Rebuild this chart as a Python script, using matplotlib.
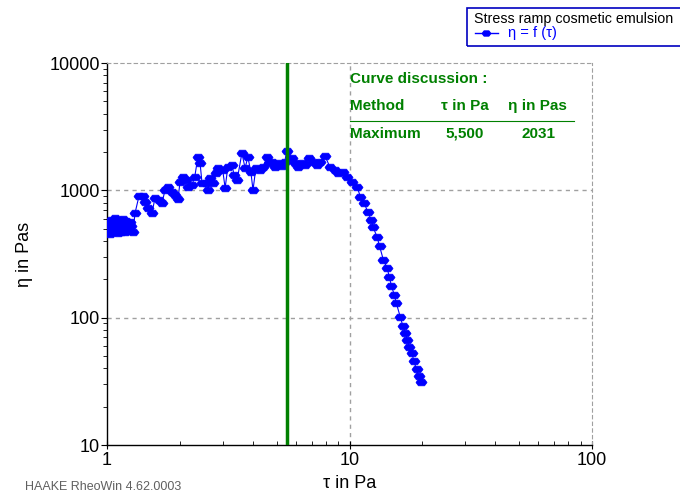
import matplotlib
matplotlib.use("Agg")
import matplotlib.pyplot as plt
from matplotlib.ticker import LogLocator, NullFormatter, FixedLocator, FixedFormatter

plt.rcParams['font.family'] = ['Liberation Sans', 'DejaVu Sans']

# ---- data (shear stress tau in Pa, viscosity eta in Pas) ----
tau = [1.00, 1.01, 1.02, 1.03, 1.04, 1.05, 1.06, 1.07, 1.08, 1.09, 1.10, 1.11,
       1.12, 1.13, 1.14, 1.15, 1.16, 1.17, 1.18, 1.19, 1.20, 1.21, 1.22, 1.24,
       1.26, 1.28, 1.305, 1.355, 1.408, 1.434, 1.476, 1.533, 1.577, 1.639,
       1.686, 1.735, 1.785, 1.854, 1.908, 1.963, 2.00, 2.06, 2.115, 2.157,
       2.24, 2.30, 2.37, 2.42, 2.465, 2.56, 2.61, 2.66, 2.74, 2.82, 2.87,
       3.00, 3.07, 3.15, 3.28, 3.34, 3.44, 3.60, 3.71, 3.81, 3.92, 4.00,
       4.11, 4.28, 4.40, 4.57, 4.66, 4.79, 4.93, 5.07, 5.27, 5.41, 5.50,
       5.79, 5.95, 6.13, 6.37, 6.56, 6.81, 7.08, 7.35, 7.55, 7.92, 8.31,
       8.71, 8.97, 9.41, 9.77, 10.25, 10.75, 11.1, 11.5, 11.9, 12.3, 12.5,
       13.0, 13.3, 13.8, 14.3, 14.6, 14.9, 15.3, 15.6, 16.2, 16.6, 17.0,
       17.3, 17.6, 18.1, 18.4, 18.9, 19.3, 19.7]
eta = [560, 480, 530, 450, 590, 500, 470, 560, 610, 490, 530, 460,
       580, 510, 470, 550, 600, 490, 520, 470, 570, 510, 480, 560,
       520, 470, 663, 902, 902, 809, 726, 663, 870, 839,
       795, 1005, 1061, 970, 918, 855, 1161, 1272, 1204, 1061,
       1101, 1272, 1826, 1639, 1141, 1141, 1005, 1249, 1141, 1368, 1497,
       1443, 1043, 1524, 1580, 1318, 1204, 1963, 1497, 1826, 1393, 1005,
       1497, 1443, 1524, 1826, 1639, 1668, 1524, 1639, 1552, 1668, 2031,
       1794, 1639, 1524, 1639, 1580, 1794, 1668, 1580, 1668, 1859, 1524,
       1443, 1368, 1393, 1272, 1161, 1061, 886, 795, 675, 584, 515,
       430, 365, 283, 245, 208, 177, 151, 130, 101, 86, 76,
       67, 59, 53, 45.6, 39.5, 34.8, 31]

max_tau = 5.5
max_eta = 2031

x_ticks = [1, 10, 100]
x_tick_labels = ["1", "10", "100"]
y_ticks = [10, 100, 1000, 10000]
y_tick_labels = ["10", "100", "1000", "10000"]

# flattened hexagon marker (wider than tall)
hexflat = [(-1, 0), (-0.55, 0.6), (0.55, 0.6), (1, 0), (0.55, -0.6), (-0.55, -0.6), (-1, 0)]

fig = plt.figure(figsize=(6.8, 4.93), dpi=100)
ax = fig.add_axes([107/680, 1-445/493, (592-107)/680, (445-63)/493])

ax.set_xscale('log')
ax.set_yscale('log')
ax.set_xlim(1, 100)
ax.set_ylim(10, 10000)

line, = ax.plot(tau, eta, color='#0000ff', lw=0.8, marker=hexflat, ms=8,
                mec='#0000ff', mfc='#0000ff', mew=0.5, zorder=3)
ax.axvline(max_tau, color='#008000', lw=2.5, zorder=4)

# grid
for v in [10]:
    ax.axvline(v, color='#a0a0a0', lw=1, ls=(0, (3, 3)), zorder=1)
for v in [100, 1000]:
    ax.axhline(v, color='#a0a0a0', lw=1, ls=(0, (3, 3)), zorder=1)

for s in ['top', 'right']:
    ax.spines[s].set_color('#a0a0a0')
    ax.spines[s].set_linestyle((0, (3, 3)))
for s in ['left', 'bottom']:
    ax.spines[s].set_color('black')
    ax.spines[s].set_linewidth(1.0)

ax.xaxis.set_major_locator(FixedLocator(x_ticks))
ax.xaxis.set_major_formatter(FixedFormatter(x_tick_labels))
ax.yaxis.set_major_locator(FixedLocator(y_ticks))
ax.yaxis.set_major_formatter(FixedFormatter(y_tick_labels))
ax.xaxis.set_minor_locator(LogLocator(base=10, subs=range(2, 10)))
ax.yaxis.set_minor_locator(LogLocator(base=10, subs=range(2, 10)))
ax.xaxis.set_minor_formatter(NullFormatter())
ax.yaxis.set_minor_formatter(NullFormatter())
ax.tick_params(axis='x', which='major', direction='inout', length=6, labelsize=13, pad=2)
ax.tick_params(axis='x', which='minor', direction='in', length=3)
ax.tick_params(axis='y', which='major', direction='out', length=4, labelsize=13, pad=1)
ax.tick_params(axis='y', which='minor', direction='out', length=3)
ax.tick_params(top=False, right=False, which='both')

ax.set_xlabel("τ in Pa", fontsize=13, labelpad=4)
ax.set_ylabel("η in Pas", fontsize=13, labelpad=12)

# curve discussion box
green = '#008000'
fig.text(350/680, 1-79/493, "Curve discussion :", color=green, fontsize=11,
         fontweight='bold', va='center', ha='left')
fig.text(350/680, 1-106/493, "Method", color=green, fontsize=11,
         fontweight='bold', va='center', ha='left')
fig.text(441/680, 1-106/493, "τ in Pa", color=green, fontsize=11,
         fontweight='bold', va='center', ha='left')
fig.text(508/680, 1-106/493, "η in Pas", color=green, fontsize=11,
         fontweight='bold', va='center', ha='left')
fig.add_artist(plt.Line2D([350/680, 574/680], [1-121/493, 1-121/493],
                          color=green, lw=0.8, transform=fig.transFigure))
fig.text(350/680, 1-134/493, "Maximum", color=green, fontsize=11,
         fontweight='bold', va='center', ha='left')
fig.text(465/680, 1-134/493, f"{max_tau:.3f}".replace('.', ','), color=green,
         fontsize=11, fontweight='bold', va='center', ha='center')
fig.text(538/680, 1-134/493, f"{max_eta}", color=green, fontsize=11,
         fontweight='bold', va='center', ha='center')

# legend box
fig.add_artist(plt.Rectangle((467/680, 1-46/493), 220/680, 38/493,
                             transform=fig.transFigure, fill=False,
                             edgecolor='#0000c0', lw=1.2))
fig.text(474/680, 1-19/493, "Stress ramp cosmetic emulsion", color='black',
         fontsize=10.3, va='center', ha='left')
fig.add_artist(plt.Line2D([475/680, 498/680], [1-33/493, 1-33/493],
                          color='#0000ff', lw=1, transform=fig.transFigure))
fig.add_artist(plt.Line2D([486/680], [1-33/493], color='#0000ff', marker=hexflat,
                          ms=6, transform=fig.transFigure))
fig.text(508/680, 1-33/493, "η = f (τ)", color='#0000ff', fontsize=10.5,
         va='center', ha='left')

fig.text(25/680, 1-487/493, "HAAKE RheoWin 4.62.0003", color='#606060',
         fontsize=9, va='center', ha='left')

fig.savefig("out.png", dpi=100)
